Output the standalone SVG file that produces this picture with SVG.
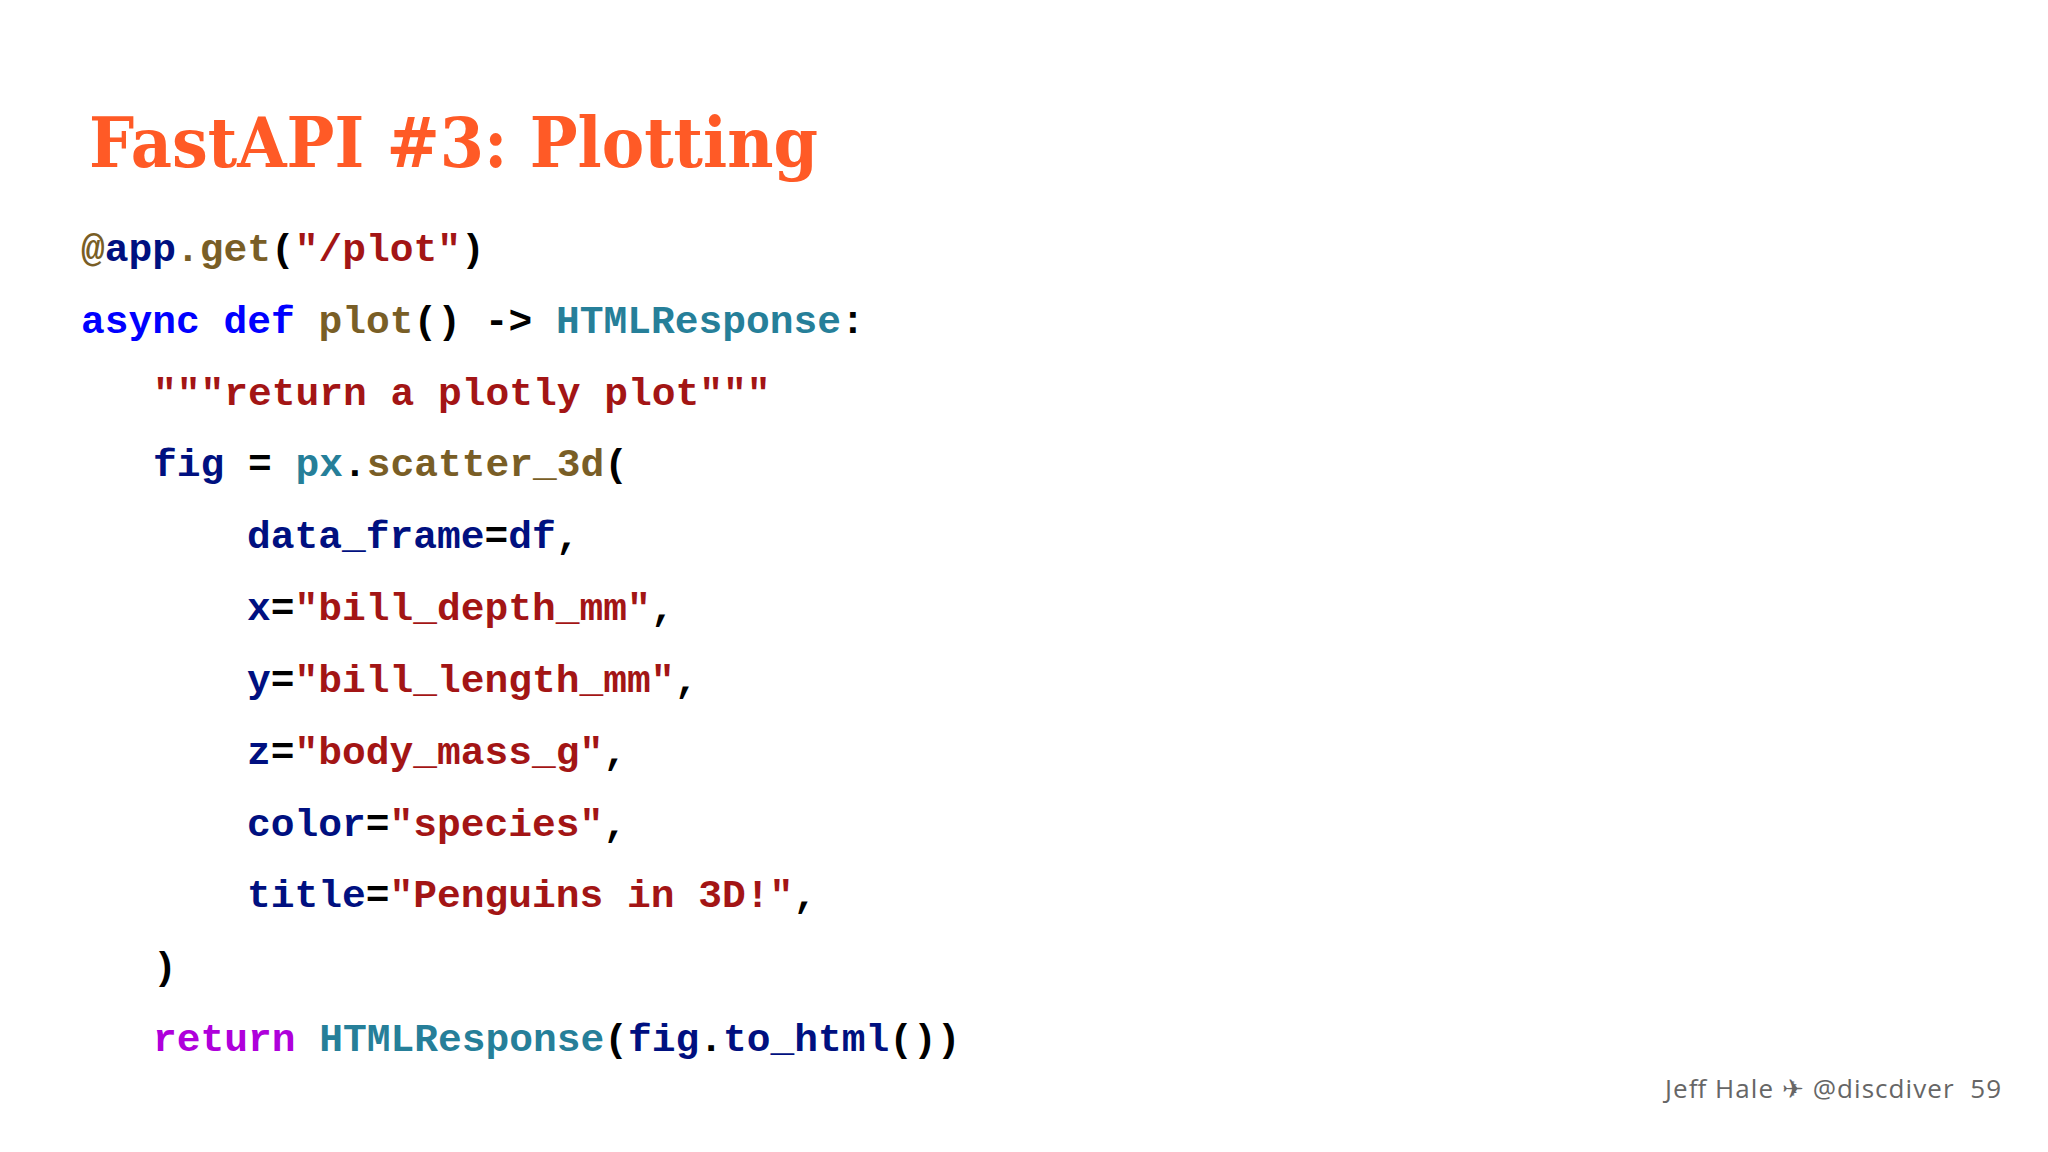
<svg xmlns="http://www.w3.org/2000/svg" width="2048" height="1152" viewBox="0 0 2048 1152">
<style>
.c{font-family:"Liberation Mono","Courier New",monospace;font-weight:bold;font-size:39.6px;white-space:pre}
.n{fill:#001080}.f{fill:#795E26}.s{fill:#A31515}.k{fill:#0000FF}.t{fill:#267F99}.r{fill:#AF00DB}.p{fill:#000}
</style>
<rect width="2048" height="1152" fill="#fff"/>
<g id="title"><text x="89" y="167" font-family="DejaVu Serif,serif" font-weight="900" font-size="70" fill="#FF5A26" textLength="729" lengthAdjust="spacingAndGlyphs">FastAPI #3: Plotting</text></g>
<g id="code">
<text class="c" x="81" y="261"><tspan class="f">@</tspan><tspan class="n">app</tspan><tspan class="f">.get</tspan><tspan class="p">(</tspan><tspan class="s">"/plot"</tspan><tspan class="p">)</tspan></text>
<text class="c" x="81" y="333"><tspan class="k">async def </tspan><tspan class="f">plot</tspan><tspan class="p">() -&gt; </tspan><tspan class="t">HTMLResponse</tspan><tspan class="p">:</tspan></text>
<text class="c s" x="153" y="405">"""return a plotly plot"""</text>
<text class="c" x="153" y="476"><tspan class="n">fig</tspan><tspan class="p"> = </tspan><tspan class="t">px</tspan><tspan class="p">.</tspan><tspan class="f">scatter_3d</tspan><tspan class="p">(</tspan></text>
<text class="c" x="247" y="548"><tspan class="n">data_frame</tspan><tspan class="p">=</tspan><tspan class="n">df</tspan><tspan class="p">,</tspan></text>
<text class="c" x="247" y="620"><tspan class="n">x</tspan><tspan class="p">=</tspan><tspan class="s">"bill_depth_mm"</tspan><tspan class="p">,</tspan></text>
<text class="c" x="247" y="692"><tspan class="n">y</tspan><tspan class="p">=</tspan><tspan class="s">"bill_length_mm"</tspan><tspan class="p">,</tspan></text>
<text class="c" x="247" y="764"><tspan class="n">z</tspan><tspan class="p">=</tspan><tspan class="s">"body_mass_g"</tspan><tspan class="p">,</tspan></text>
<text class="c" x="247" y="836"><tspan class="n">color</tspan><tspan class="p">=</tspan><tspan class="s">"species"</tspan><tspan class="p">,</tspan></text>
<text class="c" x="247" y="907"><tspan class="n">title</tspan><tspan class="p">=</tspan><tspan class="s">"Penguins in 3D!"</tspan><tspan class="p">,</tspan></text>
<text class="c p" x="153" y="979">)</text>
<text class="c" x="153" y="1051"><tspan class="r">return </tspan><tspan class="t">HTMLResponse</tspan><tspan class="p">(</tspan><tspan class="n">fig</tspan><tspan class="p">.</tspan><tspan class="n">to_html</tspan><tspan class="p">())</tspan></text>
</g>
<g id="footer"><text x="1665" y="1098" font-family="'Open Sans',sans-serif" font-size="26" fill="#666" textLength="336" lengthAdjust="spacing" style="white-space:pre">Jeff Hale ✈ @discdiver  59</text></g>
</svg>
